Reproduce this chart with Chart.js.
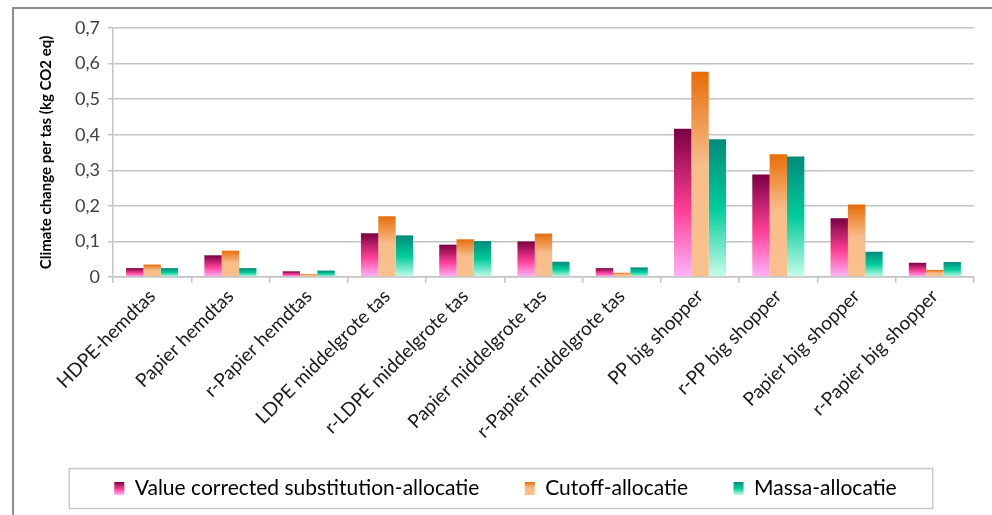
<!DOCTYPE html>
<html>
<head>
<meta charset="utf-8">
<title>Climate change per tas</title>
<script src="https://cdn.jsdelivr.net/npm/chart.js@4/dist/chart.umd.min.js"></script>
<style>
	html, body {
		margin: 0;
		padding: 0;
		background: #ffffff;
	}
	#chartWrap {
		width: 992px;
		height: 515px;
	}
</style>
</head>
<body>
<div id="chartWrap"><canvas id="climateChart" width="992" height="515"></canvas></div>
<script>
const categories = [
	"HDPE-hemdtas",
	"Papier hemdtas",
	"r-Papier hemdtas",
	"LDPE middelgrote tas",
	"r-LDPE middelgrote tas",
	"Papier middelgrote tas",
	"r-Papier middelgrote tas",
	"PP big shopper",
	"r-PP big shopper",
	"Papier big shopper",
	"r-Papier big shopper"
];

const seriesNames = ["Value corrected substitution-allocatie", "Cutoff-allocatie", "Massa-allocatie"];

const valueCorrected = [0.025, 0.061, 0.016, 0.123, 0.091, 0.100, 0.025, 0.417, 0.288, 0.165, 0.040];
const cutoff = [0.035, 0.074, 0.008, 0.171, 0.106, 0.122, 0.012, 0.577, 0.345, 0.204, 0.020];
const massa = [0.025, 0.025, 0.018, 0.117, 0.101, 0.043, 0.027, 0.387, 0.339, 0.071, 0.042];

const yTickLabels = ["0", "0,1", "0,2", "0,3", "0,4", "0,5", "0,6", "0,7"];

const FONT = "Lato, 'Open Sans', sans-serif";
const TEXT_COLOR = "#404040";
const GRID_COLOR = "#c4c4c4";
const LEGEND_GAP = "\u2002\u2002\u2002";

// gradient stops per series, top of bar -> bottom of bar
const gradientStops = [
	[[0, "#7a0042"], [0.55, "#ff3f96"], [1, "#ffb4fb"]],
	[[0, "#e86d08"], [0.45, "#f7bd8a"], [1, "#f9c18e"]],
	[[0, "#008b7c"], [0.5, "#00cc9a"], [1, "#c8fdec"]]
];

function makeGradient(ctx, top, bottom, stops) {
	const gradient = ctx.createLinearGradient(0, top, 0, bottom);
	stops.forEach(function (stop) {
		gradient.addColorStop(stop[0], stop[1]);
	});
	return gradient;
}

function barFill(seriesIndex) {
	const stops = gradientStops[seriesIndex];
	return function (context) {
		const chart = context.chart;
		const yScale = chart.scales.y;
		if (!yScale || context.raw === undefined || context.raw === null) {
			return stops[1][1];
		}
		const top = yScale.getPixelForValue(context.raw);
		const base = yScale.getPixelForValue(0);
		if (!isFinite(top) || !isFinite(base) || base - top < 1) {
			return stops[1][1];
		}
		return makeGradient(chart.ctx, top, base, stops);
	};
}

// outer frame and legend box, like the pasted Excel chart
const framePlugin = {
	id: "frame",
	afterLayout: function (chart) {
		// legend sits a little right of the canvas centre in the original
		if (chart.legend) {
			chart.legend.left += 12;
			chart.legend.right += 12;
		}
	},
	beforeDraw: function (chart) {
		const ctx = chart.ctx;
		ctx.save();
		ctx.strokeStyle = "#8e8e8e";
		ctx.lineWidth = 2;
		ctx.beginPath();
		ctx.moveTo(13, chart.height);
		ctx.lineTo(13, 8);
		ctx.lineTo(chart.width, 8);
		ctx.stroke();
		ctx.restore();
	},
	afterDraw: function (chart) {
		const legend = chart.legend;
		if (!legend || !legend.legendHitBoxes || legend.legendHitBoxes.length === 0) {
			return;
		}
		const boxes = legend.legendHitBoxes;
		const first = boxes[0];
		const last = boxes[boxes.length - 1];
		const ctx = chart.ctx;
		const labelOpts = legend.options.labels;

		ctx.save();
		ctx.strokeStyle = "#c8c8c8";
		ctx.lineWidth = 1.5;
		const left = first.left - 45;
		const right = last.left + last.width + 36;
		const top = first.top + first.height / 2 - 20;
		ctx.strokeRect(left, top, right - left, 40);

		boxes.forEach(function (hit, i) {
			const y = hit.top + (hit.height - labelOpts.boxHeight) / 2;
			ctx.fillStyle = "#ffffff";
			ctx.fillRect(hit.left - 1, y - 1, labelOpts.boxWidth + 2, labelOpts.boxHeight + 2);
			ctx.fillStyle = makeGradient(ctx, y, y + labelOpts.boxHeight, gradientStops[i]);
			ctx.fillRect(hit.left, y, labelOpts.boxWidth, labelOpts.boxHeight);
		});
		ctx.restore();
	}
};

function buildDatasets() {
	const seriesValues = [valueCorrected, cutoff, massa];
	return seriesValues.map(function (values, i) {
		return {
			label: seriesNames[i],
			data: values,
			backgroundColor: barFill(i),
			borderWidth: 0,
			categoryPercentage: 0.665,
			barPercentage: 1
		};
	});
}

const chartCanvas = document.getElementById("climateChart");

new Chart(chartCanvas, {
	type: "bar",
	data: {
		labels: categories,
		datasets: buildDatasets()
	},
	plugins: [framePlugin],
	options: {
		responsive: false,
		animation: false,
		devicePixelRatio: 1,
		layout: {
			padding: { top: 28, right: 18, left: 13, bottom: 6 }
		},
		plugins: {
			legend: {
				position: "bottom",
				labels: {
					boxWidth: 10,
					boxHeight: 13,
					padding: 14,
					color: "#1a1a1a",
					font: { family: FONT, size: 21 },
					generateLabels: function (chart) {
						const datasets = chart.data.datasets;
						return datasets.map(function (ds, i) {
							// extra space after all but the last entry, the original spreads them wider
							const gap = i < datasets.length - 1 ? LEGEND_GAP : "";
							return {
								text: ds.label + gap,
								fillStyle: gradientStops[i][1][1],
								strokeStyle: "rgba(0,0,0,0)",
								lineWidth: 0,
								datasetIndex: i,
								hidden: false
							};
						});
					}
				}
			},
			tooltip: { enabled: false }
		},
		scales: {
			x: {
				afterFit: function (scale) {
					scale.height = 187;
				},
				grid: {
					offset: true,
					drawOnChartArea: false,
					drawTicks: true,
					tickLength: 6,
					color: GRID_COLOR,
					lineWidth: 1.5
				},
				border: { display: true, color: GRID_COLOR, width: 1.5 },
				ticks: {
					autoSkip: false,
					minRotation: 45,
					maxRotation: 45,
					padding: 2,
					color: "#1a1a1a",
					font: { family: FONT, size: 19 }
				}
			},
			y: {
				min: 0,
				max: 0.7,
				afterFit: function (scale) {
					scale.width = 100;
				},
				ticks: {
					stepSize: 0.1,
					padding: 8,
					color: TEXT_COLOR,
					font: { family: FONT, size: 18 },
					callback: function (value, index) {
						return yTickLabels[index];
					}
				},
				grid: {
					color: GRID_COLOR,
					lineWidth: 1.5,
					drawTicks: true,
					tickLength: 5
				},
				border: { display: true, color: GRID_COLOR, width: 1.5 },
				title: {
					display: true,
					text: "Climate change per tas (kg CO2 eq)",
					color: "#000000",
					padding: { top: 24, bottom: 0 },
					font: { family: FONT, size: 15, weight: "bold" }
				}
			}
		}
	}
});
</script>
</body>
</html>
